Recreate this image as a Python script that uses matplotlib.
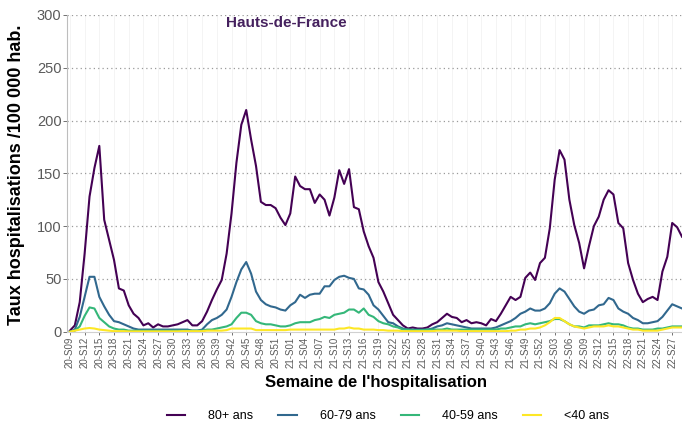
import matplotlib
matplotlib.use("Agg")
import matplotlib.pyplot as plt

plt.rcParams["font.family"] = ["Liberation Sans", "DejaVu Sans"]

# semaines 2020-S09 .. 2022-S29
weeks = ([f"20-S{w:02d}" for w in range(9, 54)]
         + [f"21-S{w:02d}" for w in range(1, 53)]
         + [f"22-S{w:02d}" for w in range(1, 30)])

age_groups = ["80+ ans", "60-79 ans", "40-59 ans", "<40 ans"]
colors = ["#440154", "#31688E", "#35B779", "#FDE725"]

rate_80 = [1, 6, 28, 74, 128, 155, 176, 106, 87, 68, 41, 39, 25, 17, 13, 6, 8, 4, 7, 5,
           5, 6, 7, 9, 11, 6, 6, 10, 19, 30, 40, 49, 74, 112, 160, 196, 210, 182, 157, 123,
           120, 120, 117, 108, 101, 112, 147, 138, 135, 135, 122, 130, 125, 110, 127, 153, 140, 154, 118, 116,
           95, 81, 70, 47, 38, 27, 16, 11, 6, 3, 4, 3, 3, 4, 7, 9, 13, 17, 14, 13,
           9, 11, 8, 9, 8, 6, 12, 10, 17, 25, 33, 30, 33, 51, 56, 49, 65, 70, 98, 144,
           172, 163, 125, 101, 84, 60, 81, 100, 109, 125, 134, 130, 103, 98, 65, 49, 36, 28, 31, 33,
           30, 57, 71, 103, 99, 90]

rate_60 = [0, 2, 14, 33, 52, 52, 33, 24, 16, 10, 9, 7, 5, 3, 2, 2, 2, 2, 2, 2,
           2, 2, 2, 2, 2, 1, 1, 2, 7, 11, 13, 16, 21, 33, 47, 59, 66, 55, 38, 30,
           26, 24, 23, 21, 20, 25, 28, 35, 32, 35, 36, 36, 43, 43, 49, 52, 53, 51, 50, 41,
           40, 35, 25, 21, 15, 9, 8, 5, 3, 2, 2, 2, 2, 2, 3, 5, 6, 8, 7, 6,
           5, 4, 3, 3, 3, 3, 3, 4, 6, 8, 10, 13, 17, 19, 22, 20, 20, 22, 27, 36,
           41, 38, 31, 24, 19, 17, 20, 21, 25, 26, 32, 30, 22, 19, 17, 13, 11, 8, 8, 9,
           10, 14, 20, 26, 24, 22]

rate_40 = [0, 1, 5, 15, 23, 22, 13, 9, 5, 3, 2, 2, 1, 1, 1, 1, 1, 1, 1, 1,
           1, 1, 1, 1, 1, 1, 1, 1, 2, 2, 3, 4, 5, 7, 13, 18, 18, 16, 10, 8,
           7, 7, 6, 5, 5, 6, 8, 9, 9, 9, 11, 12, 14, 13, 16, 17, 18, 21, 21, 18,
           22, 16, 14, 10, 8, 7, 5, 4, 2, 2, 1.5, 1.5, 1.5, 2, 2, 2, 2, 3, 2, 2,
           2, 2, 2, 2, 2, 2, 2, 2, 3, 3, 4, 5, 5, 7, 8, 7, 8, 9, 10, 12,
           12, 10, 7, 5, 5, 4, 6, 6, 6, 7, 8, 7, 7, 6, 4, 3, 3, 2, 2, 2,
           3, 3, 4, 5, 5, 5]

rate_u40 = [0, 1, 2, 3, 3.5, 3, 2, 1.5, 1, 0.5, 0.5, 0.5, 0.3, 0.3, 0.3, 0.3, 0.3, 0.3, 0.3, 0.3,
            0.3, 0.3, 0.3, 0.5, 0.5, 0.5, 0.5, 0.5, 1, 1, 1, 1, 1.5, 3, 3, 3, 3, 3, 1.5, 1.5,
            1.5, 1.5, 1.5, 1.5, 1.5, 2, 2, 2, 2, 2, 2, 2, 2, 2, 2, 3, 3, 4, 3, 3,
            2, 2, 2, 1.5, 1.5, 1, 1, 1, 0.5, 0.5, 0.5, 0.5, 0.5, 0.5, 0.5, 1, 1, 1, 1, 1,
            0.5, 0.5, 0.5, 0.5, 0.5, 0.5, 0.5, 0.5, 0.5, 0.5, 1, 1, 2, 2, 3, 3, 4, 6, 9, 13,
            13, 10, 7, 5, 4, 3, 4, 5, 5, 5, 6, 5, 5, 4, 3, 2, 2, 1, 1, 1,
            1, 2, 3, 4, 4, 4]

series = [rate_80, rate_60, rate_40, rate_u40]

fig = plt.figure(figsize=(6.82, 4.23), dpi=100)
ax = fig.add_axes([67 / 682, 1 - 331.7 / 423, 1 - 67 / 682, (331.7 - 15) / 423])

x = list(range(len(weeks)))
tick_pos = x[::3]

for tp in tick_pos:
    ax.axvline(tp, color="#f2f2f2", lw=0.6, zorder=0)
for yv in range(50, 301, 50):
    ax.axhline(yv, color="#9a9a9a", lw=0.9, ls=(0, (1, 2.5)), zorder=1)

for vals, col, lab in zip(series, colors, age_groups):
    ax.plot(x, vals, color=col, lw=1.5, label=lab, zorder=3)

ax.set_xlim(-0.6, len(weeks) - 1)
ax.set_ylim(0, 300)
ax.set_yticks(range(0, 301, 50))
ax.set_xticks(tick_pos)
ax.set_xticklabels([weeks[i] for i in tick_pos], rotation=90)

for s in ["top", "right"]:
    ax.spines[s].set_visible(False)
ax.spines["left"].set_color("#bdbdbd")
ax.spines["bottom"].set_color("#d0d0d0")
ax.tick_params(axis="y", labelsize=10.5, colors="#5a5a5a", length=3, width=0.6, pad=1)
ax.tick_params(axis="x", labelsize=7, colors="#5a5a5a", length=2, width=0.6, pad=1.5)

fig.text(17 / 682, 1 - 175 / 423, "Taux hospitalisations /100 000 hab.", rotation=90,
         ha="center", va="center", fontsize=13, fontweight="bold")
fig.text(376 / 682, 1 - 382 / 423, "Semaine de l'hospitalisation",
         ha="center", va="center", fontsize=12, fontweight="bold")
fig.text(286 / 682, 1 - 23 / 423, "Hauts-de-France",
         ha="center", va="center", fontsize=11, fontweight="bold", color="#45215e")

handles, labels = ax.get_legend_handles_labels()
fig.legend(handles, labels, loc="center", bbox_to_anchor=(388 / 682, 1 - 416 / 423),
           ncol=4, frameon=False, fontsize=9, handlelength=1.45, handletextpad=1.85,
           columnspacing=2.0)

fig.savefig("out.png", dpi=100)
